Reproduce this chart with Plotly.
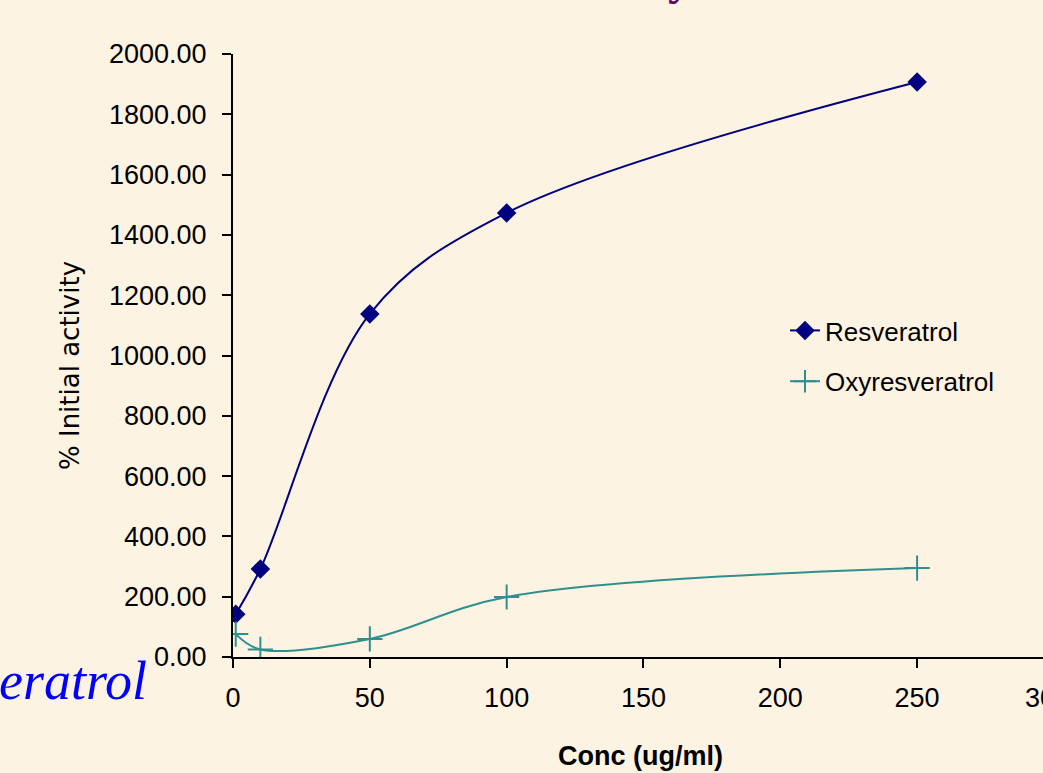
import plotly.graph_objects as go

conc = [1, 10, 50, 100, 250]
resveratrol = [142, 292, 1138, 1473, 1907]
oxyresveratrol = [76, 25, 60, 199, 295]
x_ticks = [0, 50, 100, 150, 200, 250]
y_ticks = [0, 200, 400, 600, 800, 1000, 1200, 1400, 1600, 1800, 2000]

BG = "#FDF3E2"
NAVY = "#000080"
TEAL = "#2F8F8F"

fig = go.Figure()
fig.add_trace(go.Scatter(
    x=conc, y=resveratrol, name="Resveratrol", mode="lines+markers",
    line=dict(color=NAVY, width=2, shape="spline", smoothing=1.0),
    marker=dict(symbol="diamond", size=15, color=NAVY),
    legendgroup="a"))
fig.add_trace(go.Scatter(
    x=conc, y=oxyresveratrol, name="Oxyresveratrol", mode="lines+markers",
    line=dict(color=TEAL, width=2, shape="spline", smoothing=1.0),
    marker=dict(symbol="cross-thin", size=18, color=TEAL,
                line=dict(color=TEAL, width=2)),
    legendgroup="b"))

L, T, B = 233, 54, 116
W, H = 1043, 773
pw = W - L
ph = H - T - B

def px(xp):
    return (xp - L) / pw

def py(yp):
    return (H - B - yp) / ph

fig.update_layout(
    width=W, height=H,
    margin=dict(l=L, r=0, t=T, b=B),
    paper_bgcolor=BG, plot_bgcolor=BG,
    font=dict(family="Liberation Sans, Arial, sans-serif", color="#000000"),
    showlegend=True,
    legend=dict(x=px(785), y=py(307), xanchor="left", yanchor="top",
                bgcolor="rgba(0,0,0,0)", font=dict(size=26),
                tracegroupgap=14, itemwidth=30),
    xaxis=dict(range=[0, 296], tickvals=x_ticks, showgrid=False, zeroline=False,
               showline=True, linecolor="#000000", linewidth=2,
               ticks="outside", ticklen=9, tickwidth=2, tickcolor="#000000",
               tickfont=dict(size=27), ticklabelstandoff=7),
    yaxis=dict(range=[0, 2000], tickvals=y_ticks, tickformat=".2f",
               showgrid=False, zeroline=False,
               showline=True, linecolor="#000000", linewidth=2,
               ticks="outside", ticklen=9, tickwidth=2, tickcolor="#000000",
               tickfont=dict(size=27), ticklabelstandoff=10),
    annotations=[
        dict(text="% Initial activity", xref="paper", yref="paper",
             x=px(70), y=py(366), xanchor="center", yanchor="middle",
             textangle=-90, showarrow=False,
             font=dict(size=26, family="DejaVu Sans, sans-serif")),
        dict(text="<b>Conc (ug/ml)</b>", xref="paper", yref="paper",
             x=px(640), y=py(756), xanchor="center", yanchor="middle",
             showarrow=False, font=dict(size=27)),
        dict(text="300", xref="paper", yref="paper",
             x=px(1047), y=py(698), xanchor="center", yanchor="middle",
             showarrow=False, font=dict(size=27)),
        dict(text="<i>eratrol</i>", xref="paper", yref="paper",
             x=px(-3), y=py(681), xanchor="left", yanchor="middle",
             showarrow=False,
             font=dict(size=54, color="#0000FF",
                       family="Liberation Serif, Times New Roman, serif")),
        dict(text="<b>y</b>", xref="paper", yref="paper",
             x=px(680), y=py(-23), xanchor="center", yanchor="middle",
             showarrow=False,
             font=dict(size=48, color="#660066",
                       family="Liberation Serif, Times New Roman, serif")),
    ],
)

fig.write_html("out.html")
